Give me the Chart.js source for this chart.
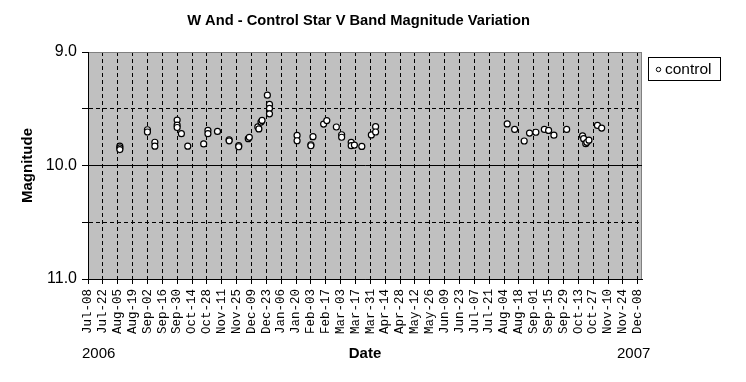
<!DOCTYPE html>
<html>
<head>
<meta charset="utf-8">
<title>W And - Control Star V Band Magnitude Variation</title>
<script src="https://cdn.jsdelivr.net/npm/chart.js@4.4.1/dist/chart.umd.min.js"></script>
<style>
  html, body { margin: 0; padding: 0; background: #fff; }
  #wrap { width: 746px; height: 382px; }
</style>
</head>
<body>
<div id="wrap"><canvas id="chart" width="746" height="382"></canvas></div>
<script>
  'use strict';

  var chartTitle = 'W And - Control Star V Band Magnitude Variation';
  var seriesName = 'control';

  // observation dates and V magnitudes of the control star
  var obsDates = [
    '2006-08-07', '2006-08-07', '2006-08-07',
    '2006-09-02', '2006-09-02',
    '2006-09-09', '2006-09-09',
    '2006-09-30', '2006-09-30', '2006-09-30',
    '2006-10-04',
    '2006-10-10',
    '2006-10-25',
    '2006-10-29', '2006-10-29',
    '2006-11-07',
    '2006-11-18', '2006-11-18',
    '2006-11-27', '2006-11-27',
    '2006-12-06', '2006-12-07',
    '2006-12-15', '2006-12-16', '2006-12-18', '2006-12-19',
    '2006-12-24', '2006-12-26', '2006-12-26', '2006-12-26',
    '2007-01-21', '2007-01-21',
    '2007-02-03', '2007-02-03', '2007-02-05',
    '2007-02-15', '2007-02-18',
    '2007-02-27',
    '2007-03-04', '2007-03-04',
    '2007-03-13', '2007-03-13', '2007-03-16',
    '2007-03-23',
    '2007-04-01', '2007-04-05', '2007-04-05',
    '2007-08-07', '2007-08-14', '2007-08-23', '2007-08-28',
    '2007-09-03', '2007-09-11', '2007-09-15', '2007-09-20',
    '2007-10-02',
    '2007-10-17', '2007-10-18', '2007-10-20', '2007-10-21', '2007-10-23',
    '2007-10-31', '2007-11-04'
  ];
  var magnitudes = [
    9.83, 9.845, 9.86,
    9.685, 9.705,
    9.795, 9.83,
    9.60, 9.645, 9.665,
    9.72,
    9.83,
    9.81,
    9.69, 9.72,
    9.70,
    9.773, 9.783,
    9.825, 9.835,
    9.764, 9.752,
    9.66, 9.678, 9.617, 9.603,
    9.38, 9.462, 9.497, 9.545,
    9.735, 9.782,
    9.817, 9.826, 9.746,
    9.635, 9.604,
    9.661,
    9.729, 9.751,
    9.796, 9.825, 9.82,
    9.832,
    9.731, 9.658, 9.705,
    9.634, 9.682, 9.784, 9.714,
    9.707, 9.682, 9.691, 9.733,
    9.682,
    9.739, 9.764, 9.808, 9.796, 9.777,
    9.647, 9.670
  ];

  // date axis: first tick, axis end, tick every two weeks
  var axisStart = '2006-07-08';
  var axisEnd = '2007-12-12';
  var tickStepDays = 14;
  var monthNames = ['Jan', 'Feb', 'Mar', 'Apr', 'May', 'Jun', 'Jul', 'Aug', 'Sep', 'Oct', 'Nov', 'Dec'];
  var yearLabels = ['2006', '2007'];

  // magnitude axis
  var magMin = 9;
  var magMax = 11;
  var magStep = 0.5;

  var DAY = 86400000;
  var sansFont = "'Liberation Sans', Arial, sans-serif";

  function dayOf(s) {
    return (Date.parse(s) - Date.parse(axisStart)) / DAY;
  }

  function dateLabel(v) {
    var d = new Date(Date.parse(axisStart) + v * DAY);
    var day = d.getUTCDate();
    return monthNames[d.getUTCMonth()] + '-' + (day < 10 ? '0' + day : day);
  }

  var points = obsDates.map(function (s, i) {
    return { x: dayOf(s), y: magnitudes[i] };
  });

  // plot background, titles, year notes and the boxed legend
  var frame = {
    id: 'frame',
    beforeDraw: function (chart) {
      var a = chart.chartArea, ctx = chart.ctx;
      ctx.save();
      ctx.fillStyle = '#c0c0c0';
      ctx.fillRect(a.left, a.top, a.right - a.left, a.bottom - a.top);
      ctx.strokeStyle = '#808080';
      ctx.lineWidth = 1;
      ctx.beginPath();
      ctx.moveTo(a.left, a.top + 0.5);
      ctx.lineTo(a.right - 0.5, a.top + 0.5);
      ctx.lineTo(a.right - 0.5, a.bottom);
      ctx.stroke();
      ctx.restore();
    },
    afterDraw: function (chart) {
      var ctx = chart.ctx;
      ctx.save();
      ctx.fillStyle = '#000';
      ctx.textBaseline = 'middle';

      ctx.textAlign = 'center';
      ctx.font = 'bold 14.7px ' + sansFont;
      ctx.fillText(chartTitle, 358.5, 21);

      ctx.textAlign = 'left';
      ctx.font = '15px ' + sansFont;
      ctx.fillText(yearLabels[0], 82, 354);
      ctx.fillText(yearLabels[1], 617, 354);

      // legend
      ctx.fillStyle = '#fff';
      ctx.fillRect(648.5, 57.5, 72, 23);
      ctx.strokeStyle = '#000';
      ctx.lineWidth = 1;
      ctx.strokeRect(648.5, 57.5, 72, 23);
      ctx.beginPath();
      ctx.arc(658.5, 69.5, 2.2, 0, Math.PI * 2);
      ctx.fill();
      ctx.stroke();
      ctx.fillStyle = '#000';
      ctx.font = '15.5px ' + sansFont;
      ctx.fillText(chart.data.datasets[0].label, 665, 69.5);
      ctx.restore();
    }
  };

  new Chart(document.getElementById('chart'), {
    type: 'scatter',
    data: {
      datasets: [{
        label: seriesName,
        data: points,
        showLine: false,
        pointStyle: 'circle',
        pointRadius: 3,
        pointHoverRadius: 3,
        pointBackgroundColor: '#fff',
        pointBorderColor: '#000',
        pointBorderWidth: 1.2
      }]
    },
    options: {
      responsive: false,
      animation: false,
      events: [],
      layout: { padding: { left: 18, top: 52, right: 104, bottom: 0 } },
      plugins: {
        legend: { display: false },
        title: { display: false },
        tooltip: { enabled: false }
      },
      scales: {
        x: {
          type: 'linear',
          min: 0,
          max: dayOf(axisEnd),
          afterFit: function (s) { s.height = 103; },
          grid: { color: '#000', lineWidth: 1, tickLength: 5, tickColor: '#000' },
          border: { color: '#000', width: 1, dash: [4, 3] },
          ticks: {
            stepSize: tickStepDays,
            includeBounds: false,
            autoSkip: false,
            minRotation: 90,
            maxRotation: 90,
            padding: 5,
            color: '#000',
            font: { family: "'Liberation Mono', 'Courier New', monospace", size: 12.5 },
            callback: dateLabel
          },
          title: {
            display: true,
            text: 'Date',
            color: '#000',
            font: { family: sansFont, size: 15, weight: 'bold' },
            padding: { top: 0, bottom: 19 }
          }
        },
        y: {
          type: 'linear',
          min: magMin,
          max: magMax,
          reverse: true,
          afterFit: function (s) { s.width = 70; },
          grid: {
            color: function (c) { return c.tick && c.tick.value === magMin ? '#808080' : '#000'; },
            lineWidth: 1,
            tickLength: 6,
            tickColor: '#000'
          },
          border: {
            color: '#000',
            width: 1,
            dash: function (c) { return c.tick && c.tick.value % 1 !== 0 ? [4, 3] : []; }
          },
          ticks: {
            stepSize: magStep,
            padding: 5,
            color: '#000',
            font: { family: sansFont, size: 16 },
            callback: function (v) { return v % 1 === 0 ? v.toFixed(1) : ''; }
          },
          title: {
            display: true,
            text: 'Magnitude',
            color: '#000',
            font: { family: sansFont, size: 15, weight: 'bold' },
            padding: { top: 1, bottom: 0 }
          }
        }
      }
    },
    plugins: [frame]
  });
</script>
</body>
</html>
